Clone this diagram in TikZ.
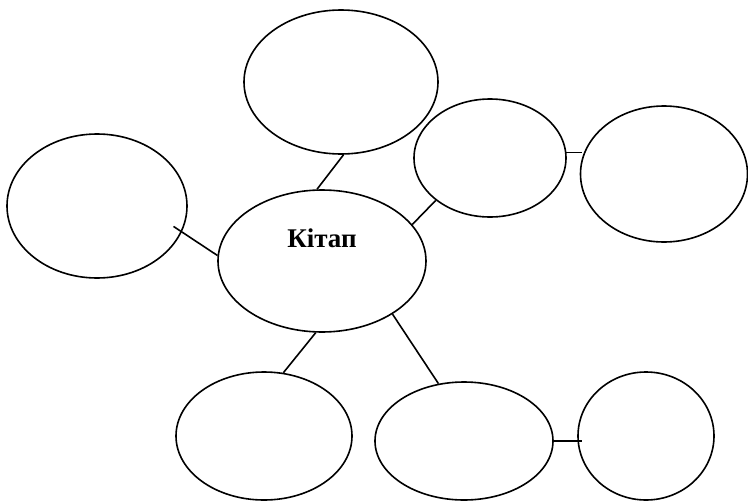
\documentclass[tikz,border=0pt]{standalone}
\usepackage{fontspec}
\setmainfont{Liberation Serif}
\usetikzlibrary{shapes.geometric}
\begin{document}
\begin{tikzpicture}[x=1pt,y=-1pt,
  bubble/.style={draw=black, line width=1.6pt, ellipse, inner sep=0pt},
  link/.style={draw=black, line width=1.6pt}]
\useasboundingbox (0,0) rectangle (748,501);
\node[bubble, minimum width=194pt, minimum height=144pt] (top) at (341,82) {};
\node[bubble, minimum width=180pt, minimum height=144pt] (left) at (97,206) {};
\node[bubble, minimum width=208pt, minimum height=142pt] (mid) at (322,261) {};
\node[bubble, minimum width=152pt, minimum height=118pt] (ur) at (490,158) {};
\node[bubble, minimum width=167pt, minimum height=136pt] (far) at (664,174) {};
\node[bubble, minimum width=176pt, minimum height=128pt] (bl) at (264,436) {};
\node[bubble, minimum width=178pt, minimum height=118pt] (bm) at (464,441) {};
\node[bubble, minimum width=136pt, minimum height=128pt] (br) at (646,436) {};
\node[font=\fontsize{27}{31}\selectfont\bfseries] (lbl) at (322,238) {Кітап};
\draw[link] (top.-88) -- (mid.94);
\draw[link, shorten <=-10pt] (left.-17) -- (mid.177);
\draw[link] (mid.22) -- (ur.218);
\draw[link, shorten >=-2pt] (ur.4) -- (ur.4 -| far.west);
\draw[link] (mid.-95) -- (bl.73);
\draw[link] (mid.-37) -- (bm.114);
\draw[link, shorten >=-5pt] (bm.east) -- (bm.east -| br.west);
\end{tikzpicture}
\end{document}
